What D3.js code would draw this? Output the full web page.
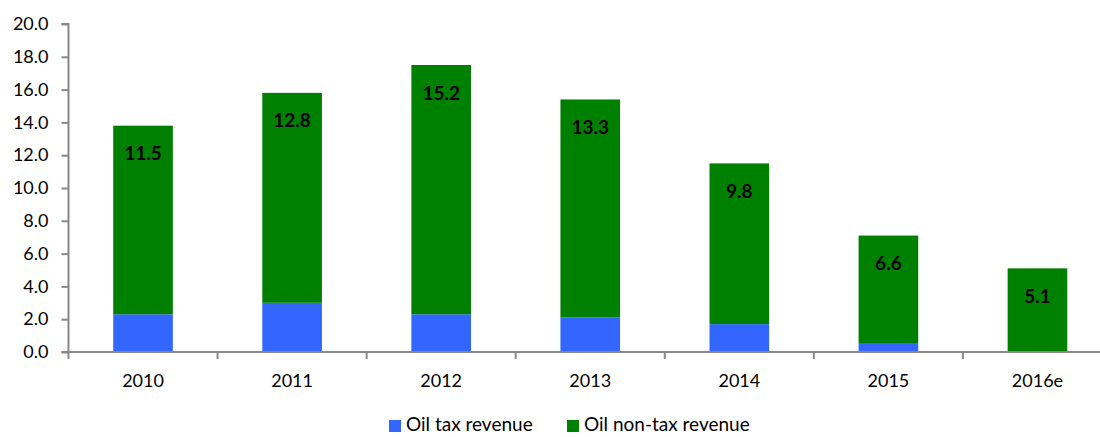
<!DOCTYPE html>
<html>
<head>
<meta charset="utf-8">
<script src="https://cdn.jsdelivr.net/npm/d3@7"></script>
<style>
  body { margin: 0; background: #fff; }
  svg { display: block; font-family: Lato, "Open Sans", sans-serif; }
</style>
</head>
<body>
<script>
// values
const years = ["2010", "2011", "2012", "2013", "2014", "2015", "2016e"];
const taxRevenue = [2.3, 3.0, 2.3, 2.1, 1.7, 0.5, 0.0];
const nonTaxRevenue = [11.5, 12.8, 15.2, 13.3, 9.8, 6.6, 5.1];
const yTicks = [0, 2, 4, 6, 8, 10, 12, 14, 16, 18, 20];
const seriesNames = ["Oil tax revenue", "Oil non-tax revenue"];
const colors = ["#3366ff", "#008000"];

const W = 1100, H = 437;
const margin = {top: 24, right: -12, bottom: 85, left: 68.5};
const width = W - margin.left - margin.right;
const height = H - margin.top - margin.bottom;

const svg = d3.select("body").append("svg")
    .attr("width", W)
    .attr("height", H);

const g = svg.append("g")
    .attr("transform", "translate(" + margin.left + "," + margin.top + ")");

const x = d3.scaleBand().domain(years).range([0, width]).paddingInner(0.6).paddingOuter(0.3);
const y = d3.scaleLinear().domain([0, 20]).range([height, 0]);

// stack the two series
const rows = years.map((yr, i) => ({year: yr, tax: taxRevenue[i], nontax: nonTaxRevenue[i]}));
const stack = d3.stack().keys(["tax", "nontax"])(rows);

g.selectAll(".series")
  .data(stack)
  .enter().append("g")
    .attr("fill", (d, i) => colors[i])
  .selectAll("rect")
  .data(d => d)
  .enter().append("rect")
    .attr("x", d => x(d.data.year))
    .attr("y", d => y(d[1]))
    .attr("width", x.bandwidth())
    .attr("height", d => y(d[0]) - y(d[1]));

// labels for non-tax values near the top of each bar
g.selectAll(".lbl")
  .data(rows)
  .enter().append("text")
    .attr("x", d => x(d.year) + x.bandwidth() / 2)
    .attr("y", d => y(d.tax + d.nontax) + 27)
    .attr("text-anchor", "middle")
    .attr("dominant-baseline", "central")
    .attr("font-weight", "bold")
    .attr("font-size", "19px")
    .attr("fill", "#000")
    .text(d => d.nontax.toFixed(1));

// y axis
const yAxis = g.append("g")
    .call(d3.axisLeft(y).tickValues(yTicks).tickFormat(d3.format(".1f")).tickSize(7).tickPadding(13));
yAxis.select(".domain").attr("stroke", "#888").attr("stroke-width", 2).attr("d", "M0," + height + "V0H-7");
yAxis.selectAll(".tick line").attr("stroke", "#888").attr("stroke-width", 2);
yAxis.selectAll("text").attr("font-size", "18px").attr("fill", "#000").attr("font-family", "Lato, sans-serif");

// x axis with ticks on band boundaries
const xAxis = g.append("g").attr("transform", "translate(0," + height + ")");
xAxis.append("line")
    .attr("x1", -7).attr("x2", width)
    .attr("stroke", "#888").attr("stroke-width", 2);
const step = x.step();
xAxis.selectAll(".xt")
  .data(years.slice(1))
  .enter().append("line")
    .attr("x1", d => x(d) - (step - x.bandwidth()) / 2)
    .attr("x2", d => x(d) - (step - x.bandwidth()) / 2)
    .attr("y1", 0).attr("y2", 7)
    .attr("stroke", "#888").attr("stroke-width", 2);
xAxis.append("line")
    .attr("x1", 0).attr("x2", 0).attr("y1", 0).attr("y2", 7)
    .attr("stroke", "#888").attr("stroke-width", 2);
xAxis.selectAll(".xl")
  .data(years)
  .enter().append("text")
    .attr("x", d => x(d) + x.bandwidth() / 2)
    .attr("y", 28)
    .attr("text-anchor", "middle")
    .attr("dominant-baseline", "central")
    .attr("font-size", "18px")
    .attr("fill", "#000")
    .text(d => d);

// legend
const legendX = [389, 567];
const legend = svg.selectAll(".legend")
  .data(seriesNames)
  .enter().append("g")
    .attr("transform", (d, i) => "translate(" + legendX[i] + ",420)");
legend.append("rect")
    .attr("width", 12).attr("height", 12)
    .attr("fill", (d, i) => colors[i]);
legend.append("text")
    .attr("x", 17).attr("y", 11)
    .attr("font-size", "19px")
    .attr("fill", "#000")
    .text(d => d);
</script>
</body>
</html>
